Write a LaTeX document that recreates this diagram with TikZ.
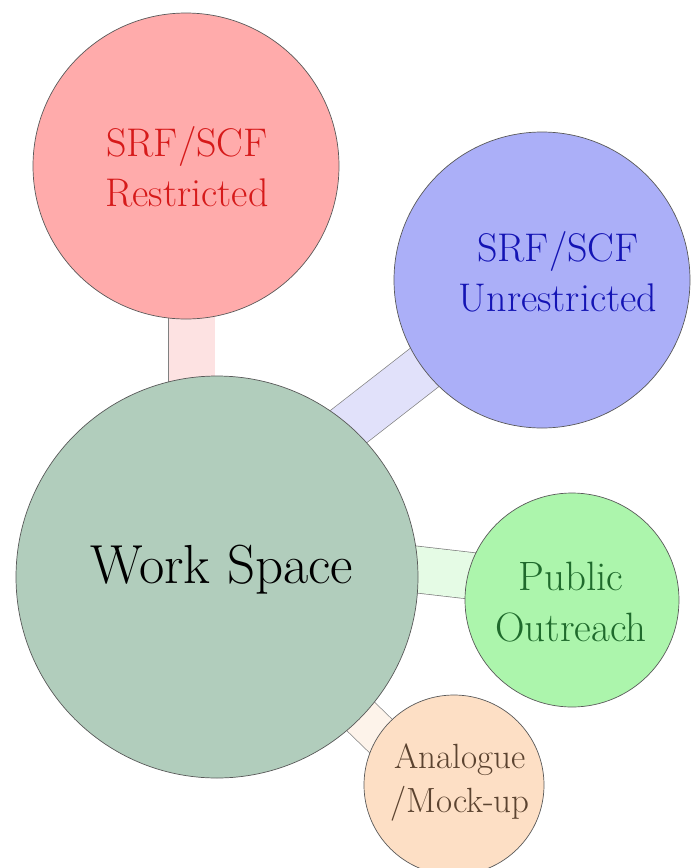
\documentclass[tikz,border=0pt]{standalone}
\usetikzlibrary{calc,backgrounds}
\definecolor{redfill}{HTML}{FFABAB}
\definecolor{redbar}{HTML}{FDE2E2}
\definecolor{redtext}{HTML}{D61A1A}
\definecolor{bluefill}{HTML}{ABAFF8}
\definecolor{bluebar}{HTML}{E1E1FA}
\definecolor{bluetext}{HTML}{1414B4}
\definecolor{wsfill}{HTML}{B1CDBC}
\definecolor{greenfill}{HTML}{ACF5AC}
\definecolor{greenbar}{HTML}{E5FBE5}
\definecolor{greentext}{HTML}{1F6A2C}
\definecolor{orangefill}{HTML}{FDDFC5}
\definecolor{orangebar}{HTML}{FDF3EA}
\definecolor{orangetext}{HTML}{5B4330}
\begin{document}
\begin{tikzpicture}[x=1pt,y=-1pt,
  bubble/.style={circle,draw=black!65,line width=0.7pt,inner sep=0pt},
  txt/.style={align=center,inner sep=0pt},
  barline/.style={line width=0.7pt,draw=black!50}]
\useasboundingbox (0,0) rectangle (691,868);
% circles
\node[bubble,fill=redfill,minimum size=306pt] (red) at (186,166) {};
\node[bubble,fill=bluefill,minimum size=296pt] (blue) at (542,280) {};
\node[bubble,fill=wsfill,minimum size=402pt] (ws) at (217,577) {};
\node[bubble,fill=greenfill,minimum size=214pt] (green) at (572,600) {};
\node[bubble,fill=orangefill,minimum size=180pt] (orange) at (454,785) {};
% texts
\node[txt,text=redtext,font=\fontsize{40}{50}\selectfont] (redt) at (187,167) {SRF/SCF\\Restricted};
\node[txt,text=bluetext,font=\fontsize{40}{50}\selectfont] (bluet) at (558,272) {SRF/SCF\\Unrestricted};
\node[txt,text=black,font=\fontsize{55}{60}\selectfont] (wst) at (222,570) {Work Space};
\node[txt,text=greentext,font=\fontsize{41}{51}\selectfont] (greent) at (571,602) {Public\\Outreach};
\node[txt,text=orangetext,font=\fontsize{35}{44}\selectfont] (oranget) at (460,782) {Analogue\\/Mock-up};
% connectors
\begin{pgfonlayer}{background}
\draw[barline,double=redbar,double distance=46pt] ($(red.center)+(5.5,0)$) -- ($(ws.center)+(-25.5,-60)$);
\draw[barline,double=bluebar,double distance=47pt] ($(blue.center)+(0,-4)$) -- ($(ws.center)+(88,-116.5)$);
\draw[barline,double=greenbar,double distance=46pt] ($(ws.center)+(83,-21)$) -- ($(green.center)+(0,-12.5)$);
\draw[barline,double=orangebar,double distance=39pt] (ws.center) -- ($(orange.center)+(-34,-11)$);
\end{pgfonlayer}
\end{tikzpicture}
\end{document}
